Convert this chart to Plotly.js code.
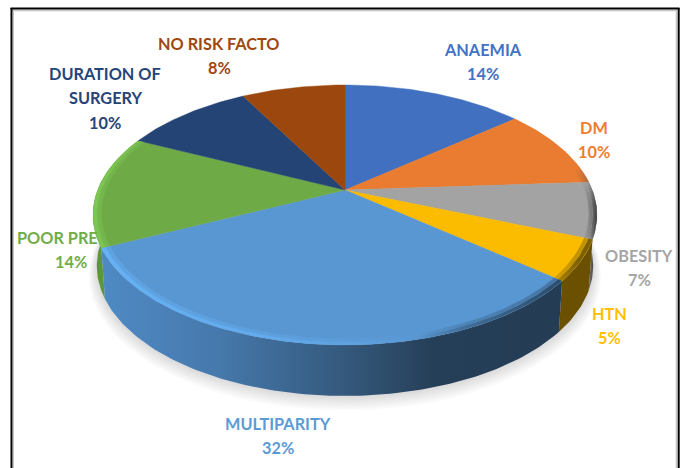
<!DOCTYPE html>
<html>
<head>
<meta charset="utf-8">
<script src="https://cdn.plot.ly/plotly-3.0.1.min.js"></script>
<style>html,body{margin:0;padding:0;background:#fff}#chart{width:684px;height:468px}</style>
</head>
<body>
<div id="chart"></div>
<script>
// Risk factor shares, clockwise from twelve o'clock
const categories = ['ANAEMIA', 'DM', 'OBESITY', 'HTN', 'MULTIPARITY', 'POOR PRE', 'DURATION OF SURGERY', 'NO RISK FACTO'];
const shares = [14, 10, 7, 5, 32, 14, 10, 8];
const faceColors = ['#4070bf', '#e97c30', '#a3a3a3', '#fbbc00', '#5997d3', '#6eaa46', '#254476', '#9b470d'];
const textColors = ['#4472c4', '#ed7d31', '#a5a5a5', '#ffc000', '#5b9bd5', '#70ad47', '#264478', '#9e480e'];

// Label anchors: [x centre of name, y of first line, x centre of percent]
const labelSpots = [
  [483, 49, 483], [594, 127, 594], [639, 255, 639], [609, 313, 609],
  [278, 423, 278], [57, 237, 71], [105, 73, 105], [219, 43, 219]
];
const lineGap = 24.5;

// Perspective disc: a unit circle seen from the front and above
const disc = {cx: 345, cy: 190, rx: 247.3, ry: 125.2, tilt: 0.192, depth: 51, baseShrink: 0.985};

function project(angle, r) {
  const u = r * Math.sin(angle), v = r * Math.cos(angle), w = 1 + disc.tilt * v;
  return [disc.cx + disc.rx * u / w, disc.cy - disc.ry * v / w];
}
function baseProject(angle, r) {
  const p = project(angle, r);
  return [disc.cx + (p[0] - disc.cx) * disc.baseShrink, p[1] + disc.depth];
}
function arc(fn, a0, a1, r) {
  const n = Math.max(6, Math.ceil(Math.abs(a1 - a0) * 60)), pts = [];
  for (let i = 0; i <= n; i++) pts.push(fn(a0 + (a1 - a0) * i / n, r));
  return pts;
}
function polygon(name, pts, style) {
  return Object.assign({
    type: 'scatter', mode: 'lines', name: name, fill: 'toself', hoverinfo: 'skip', showlegend: false,
    x: pts.map(p => p[0]), y: pts.map(p => p[1]), line: {width: 0}
  }, style);
}
function ramp(stops) {
  return {type: 'horizontal', colorscale: stops};
}
function mixHex(a, b, t) {
  const ch = (h, i) => parseInt(h.substr(1 + 2 * i, 2), 16);
  return 'rgb(' + [0, 1, 2].map(i => Math.round(ch(a, i) * (1 - t) + ch(b, i) * t)).join(',') + ')';
}

const total = shares.reduce((a, b) => a + b, 0);
const edges = [0];
shares.forEach(s => edges.push(edges[edges.length - 1] + s / total * 2 * Math.PI));

// Side wall and rim shading per slice; slices at the back show none
const wallShade = {
  2: ramp([[0, '#8a8a8a'], [0.6, '#555555'], [1, '#2e2e2e']]),
  3: ramp([[0, '#6a5000'], [1, '#6a5000']]),
  4: ramp([[0, '#4f8ac4'], [0.25, '#4679ad'], [0.52, '#355a7e'], [0.72, '#263f58'], [1, '#243d55']]),
  5: ramp([[0, '#5a9638'], [1, '#5f9e3b']])
};
const rimStops = {
  1: [[0, '#e97c30'], [0.85, '#e97c30'], [1, '#a8683c']],
  2: [[0, '#a3a3a3'], [0.35, '#8f8f8f'], [1, '#3c3c3c']],
  3: [[0, '#a88006'], [0.6, '#7c6006'], [1, '#7c6006']],
  4: [[0, '#66b2f4'], [0.35, '#62aaec'], [0.55, '#5ea2df'], [0.68, '#5997d3'], [0.8, '#3f6a92'], [1, '#2c4c6a']],
  5: [[0, '#7cc653'], [1, '#78bf50']]
};

const traces = [];

// Soft cast shadow beneath the disc
[14, 12, 10, 8, 6, 4, 2].forEach(grow => {
  const ring = arc((a, r) => {
    const p = baseProject(a, r);
    return [p[0], p[1] + grow * 0.6];
  }, 0, 2 * Math.PI, 1 + grow / 450);
  traces.push(polygon('shadow', ring, {fillcolor: 'rgba(0,0,0,0.02)'}));
});

// Walls, back to front
[2, 5, 3, 4].forEach(i => {
  const top = arc(project, edges[i], edges[i + 1], 1);
  const bottom = arc(baseProject, edges[i + 1], edges[i], 1);
  traces.push(polygon(categories[i] + ' wall', top.concat(bottom), {fillgradient: wallShade[i], fillcolor: faceColors[i]}));
});

// Top faces
categories.forEach((c, i) => {
  const pts = [[disc.cx, disc.cy]].concat(arc(project, edges[i], edges[i + 1], 1));
  pts.push([disc.cx, disc.cy]);
  traces.push(polygon(c, pts, {fillcolor: faceColors[i], line: {width: 0.4, color: faceColors[i]}}));
});

// Bevel along the near rim: a faded inner band, then the full-strength edge
Object.keys(rimStops).forEach(k => {
  const i = +k;
  [[0.968, 0.984, 0.55], [0.984, 1, 0]].forEach(band => {
    const outer = arc(project, edges[i], edges[i + 1], band[1]);
    const inner = arc(project, edges[i + 1], edges[i], band[0]);
    const stops = rimStops[i].map(s => [s[0], mixHex(s[1], faceColors[i], band[2])]);
    traces.push(polygon(categories[i] + ' rim', outer.concat(inner), {fillgradient: ramp(stops), fillcolor: faceColors[i]}));
  });
});

// Two or three centred text lines per slice
const annotations = [];
categories.forEach((c, i) => {
  const words = c === 'DURATION OF SURGERY' ? ['DURATION OF', 'SURGERY'] : [c];
  const spot = labelSpots[i];
  words.concat([shares[i] + '%']).forEach((line, n) => {
    annotations.push({
      xref: 'x', yref: 'y', showarrow: false, xanchor: 'center', yanchor: 'middle',
      x: n === words.length ? spot[2] : spot[0], y: spot[1] + n * lineGap,
      text: line, font: {family: 'Lato, Carlito, sans-serif', size: 16.3, color: textColors[i], weight: 700}
    });
  });
});

// Chart frame, open along the bottom
const frameLine = (x0, y0, x1, y1, color, width) => ({
  type: 'line', xref: 'x', yref: 'y', x0, y0, x1, y1, line: {color, width}
});
const shapes = [
  frameLine(13.5, 10, 13.5, 468, '#c4c4c4', 1),
  frameLine(12, 10.5, 677, 10.5, '#c4c4c4', 1.5),
  frameLine(676.5, 10, 676.5, 468, '#c4c4c4', 1.5),
  frameLine(11.5, 8, 11.5, 468, '#000000', 2),
  frameLine(10.5, 8.5, 679.5, 8.5, '#000000', 2),
  frameLine(678.7, 8, 678.7, 468, '#000000', 2)
];

const hidden = {visible: false, fixedrange: true};
Plotly.newPlot('chart', traces, {
  width: 684, height: 468,
  margin: {l: 0, r: 0, t: 0, b: 0},
  paper_bgcolor: '#ffffff', plot_bgcolor: '#ffffff',
  xaxis: Object.assign({}, hidden, {range: [0, 684]}),
  yaxis: Object.assign({}, hidden, {range: [468, 0]}),
  showlegend: false,
  annotations, shapes
}, {displayModeBar: false, staticPlot: true});
</script>
</body>
</html>
